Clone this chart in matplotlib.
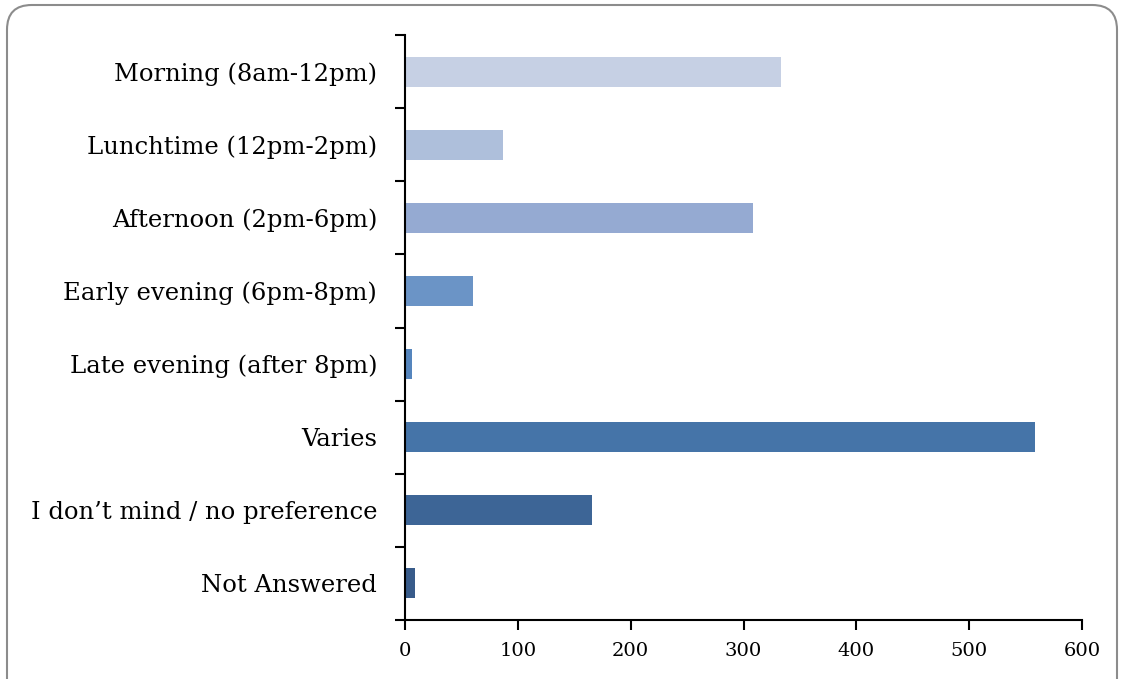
import numpy as np
from matplotlib import pyplot as plt
from matplotlib.patches import FancyBboxPatch

# answers, top to bottom
categories = [
    "Morning (8am-12pm)",
    "Lunchtime (12pm-2pm)",
    "Afternoon (2pm-6pm)",
    "Early evening (6pm-8pm)",
    "Late evening (after 8pm)",
    "Varies",
    "I don\u2019t mind / no preference",
    "Not Answered",
]
counts = [333, 87, 308, 60, 6, 558, 166, 9]
bar_colors = ["#c6d0e4", "#aebfdb", "#95aad2", "#6b94c6",
              "#5585bd", "#4574a8", "#3d6596", "#385b8a"]
x_ticks = [0, 100, 200, 300, 400, 500, 600]

plt.rcParams["font.family"] = ["DejaVu Serif"]

fig = plt.figure(figsize=(11.22, 6.79), dpi=100)
ax = fig.add_axes([405 / 1122, 1 - 620 / 679, (1082 - 405) / 1122, (620 - 35) / 679])

y = np.arange(len(categories))
ax.barh(y, counts, height=0.41, color=bar_colors)
ax.set_ylim(len(categories) - 0.5, -0.5)
ax.set_xlim(0, 600)

ax.set_yticks(y)
ax.set_yticklabels(categories, fontsize=17.5)
ax.set_yticks(np.arange(len(categories) + 1) - 0.5, minor=True)
ax.tick_params(axis="y", which="major", length=0, pad=20)
ax.tick_params(axis="y", which="minor", length=7, width=1.5, direction="out")

ax.set_xticks(x_ticks)
ax.set_xticklabels([str(t) for t in x_ticks], fontsize=14)
ax.tick_params(axis="x", length=7, width=1.5, direction="out", pad=9)

for s in ["top", "right"]:
    ax.spines[s].set_visible(False)
for s in ["left", "bottom"]:
    ax.spines[s].set_linewidth(1.5)

# rounded frame around the chart
frame = FancyBboxPatch((7 / 1122, -0.05), 1110 / 1122, 1 - 5 / 679 + 0.05,
                       boxstyle="round,pad=0,rounding_size=0.022",
                       transform=fig.transFigure, fill=False,
                       edgecolor="#8c8c8c", linewidth=1.5, mutation_aspect=1122 / 679)
fig.patches.append(frame)

fig.savefig("out.png", dpi=100)
